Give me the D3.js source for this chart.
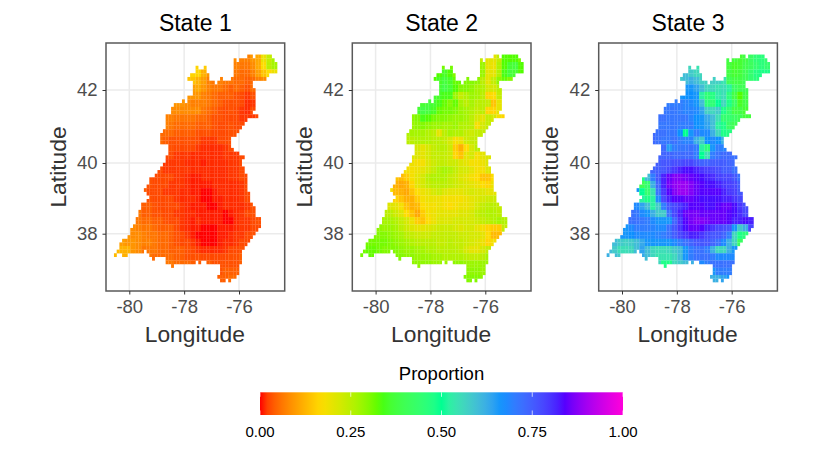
<!DOCTYPE html>
<html>
<head>
<meta charset="utf-8">
<script src="https://cdnjs.cloudflare.com/ajax/libs/d3/7.8.5/d3.min.js"></script>
<style>
  body { margin: 0; background: #fff; }
  text { font-family: "Liberation Sans", Arial, sans-serif; }
</style>
</head>
<body>
<div id="chart"></div>
<script>
const stateNames = ["State 1", "State 2", "State 3"]
const lonTicks = [-80, -78, -76]
const latTicks = [38, 40, 42]
const legendTicks = [0, 0.25, 0.5, 0.75, 1]
const rainbowColors = ["#FF0000", "#FFDB00", "#49FF00", "#00FF92", "#0092FF", "#4900FF", "#FF00DB"]

// grid origin and spacing, degrees
const lonStart = -80.51, lonStep = 0.0992
const latStart = 42.92, latStep = 0.1023

// occupied grid columns for each row, north to south
const landRuns = [
  [[49,50],[52,57]], [[44,44],[46,58]], [[44,59]], [[30,30],[33,33],[44,59]],
  [[30,33],[44,59]], [[28,34],[44,56]], [[27,34],[39,39],[43,55]], [[29,36],[38,50]],
  [[29,50]], [[29,51]], [[29,51]], [[27,51]],
  [[25,25],[27,51]], [[22,51]], [[21,51]], [[21,50]],
  [[19,52]], [[19,48]], [[19,47]], [[19,46]],
  [[18,45]], [[17,44]], [[17,42]], [[17,42]],
  [[20,42]], [[20,43]], [[20,45]], [[19,47]],
  [[19,46]], [[18,46]], [[17,47]], [[16,47]],
  [[15,48]], [[13,48]], [[13,48]], [[12,48]],
  [[11,48]], [[12,49]], [[13,49]], [[12,49]],
  [[10,50]], [[10,51]], [[9,51]], [[9,51]],
  [[8,53]], [[8,53]], [[7,53]], [[6,52]],
  [[6,51]], [[5,50]], [[3,49]], [[2,48]],
  [[2,47]], [[1,10],[12,46]], [[0,0],[3,4],[13,46]], [[14,14],[19,46]],
  [[19,29],[31,31],[34,46]], [[21,21],[39,45]], [[39,45]], [[39,45]],
  [[38,44]], [[39,40],[42,42]]
]

// proportions in percent, one list per two grid rows, two grid columns per value
const state1 = [
  [8,7,7,9,11,19,24,27],
  [16,15,0,0,0,0,0,7,6,6,8,11,17,25,27],
  [16,16,12,9,0,0,0,0,6,5,5,7,10,14,17,19],
  [14,14,12,10,7,6,7,6,6,5,5,4,5,7,8],
  [10,11,9,7,6,6,5,4,5,4,3,5],
  [9,9,9,7,6,5,4,4,4,3,2.5,1.5,3],
  [9,9,8,7,7,7,6,5,4,3,3,3,2.5,1,1.5],
  [8,8,8,8,8,8,6,5,4,3,2.5,3,2.5,1.5,1,2.5],
  [7,7,6,6,6,6,5,5,4,3,3,2.5,2.5,2.5,1.5,1.5,1.5,2.5],
  [7,6,5,5,5,5,4,4,4,3,2.5,2.5,3,2.5,2.5],
  [5,5,5,4,4,4,4,3,3,3,2.5,2.5,2.5,3,3],
  [5,4,3,3,3,3,3,2.5,1.5,1.5,1.5,2.5,2.5,3],
  [3,2.5,2.5,2.5,2.5,1.5,1,1,1,1,1.5,2.5],
  [2.5,2.5,1.5,1.5,1.5,1,1,1,1,1,1,1.5,1.5,1.5,2.5],
  [1.5,1.5,1.5,1.5,1,1,1,0.5,1,1,1,1,1.5,1.5,2.5],
  [2.5,1.5,1.5,1.5,1.5,1.5,1,1,1,1,1,1,1,1.5,1.5,2.5],
  [3,2.5,2.5,2.5,2.5,1.5,1.5,1,0.5,0.5,1,1,1,1,1,1.5,1.5,2.5,2.5],
  [3,2.5,2.5,2.5,1.5,1.5,1.5,1,0.5,0.5,0.5,0.5,1,1,1,1,1,1.5,2.5],
  [4,2.5,2.5,2.5,1.5,1.5,1.5,1,1,0.5,0.5,0,0,0.5,1,1,1,1,1.5,2.5],
  [3,2.5,2.5,2.5,2.5,1.5,1,1,1,0.5,0,0,0.5,0.5,1,1,1,1.5,2.5],
  [4,4,3,2.5,2.5,2.5,2.5,1.5,1,0.5,0.5,0.5,0,0,0.5,1,1,1,1,1.5,3],
  [6,4,4,3,3,2.5,2.5,1.5,1.5,1,1,0.5,0.5,0.5,0.5,0.5,0,0.5,1,1.5,2.5,3],
  [6,5,5,4,4,3,2.5,2.5,1.5,1,0.5,1,0.5,0.5,0.5,0.5,0,0,1,1.5,1.5,2.5,3],
  [8,7,6,6,5,4,4,4,2.5,1.5,1,0.5,0.5,0,0,0,0.5,0.5,0.5,1,1.5,1.5,2.5,2.5],
  [9,8,8,7,6,6,5,5,4,3,2.5,1.5,0.5,0,0,0,0,0.5,0.5,1,1.5,1.5,2.5,3],
  [10,9,9,8,7,7,6,5,5,4,3,2.5,2.5,1.5,0.5,0,0,0,0.5,1,1,1.5,2.5,2.5],
  [13,12,12,9,8,6,6,6,5,5,4,4,4,3,2.5,1.5,1,1,1,1,1.5,2.5,2.5,3],
  [13,12,12,9,8,7,6,5,5,5,5,4,4,3,3,3,2.5,2.5,2.5,2.5,2.5,3,3,4],
  [6,6,5,5,5,4,4,4,4,3,3,3,3,3,4],
  [3,4,4,4],
  [4,4,5,5]
]
const state2 = [
  [24,20,20,24,33,33,33,31],
  [31,31,0,0,0,0,0,28,20,19,26,33,36,37,33],
  [33,35,33,30,0,0,0,0,28,20,20,26,34,37,36,33],
  [33,35,37,35,32,32,30,30,29,25,20,24,29,32,30],
  [36,38,36,33,30,30,29,27,26,22,22,25],
  [36,35,34,34,28,24,26,28,27,25,16,17,24],
  [36,37,36,34,32,30,32,27,25,27,25,25,24,14,20],
  [36,38,37,35,32,31,31,30,28,27,26,24,25,16,16,20],
  [29,30,34,33,31,30,30,29,28,28,27,25,22,20,24,22,18,16],
  [28,29,30,29,28,28,27,27,28,26,26,25,18,22,24],
  [26,27,27,27,26,25,20,25,27,26,26,24,23,24,24],
  [25,25,26,26,26,25,25,24,22,18,19,23,24,24],
  [22,20,22,24,25,25,23,15,12,17,22,25],
  [21,21,20,22,24,24,24,23,16,14,20,22,18,20,21],
  [19,18,18,21,23,24,24,23,23,21,20,18,18,19,21],
  [18,18,19,20,22,24,26,27,26,24,22,22,20,18,18,21],
  [14,13,15,18,20,22,25,26,26,26,24,23,21,20,18,17,14,14,17],
  [12,11,12,16,20,22,24,25,25,25,24,23,22,21,20,19,17,16,19],
  [18,13,12,11,14,17,19,20,22,23,21,20,20,20,21,22,21,21,20,20],
  [16,14,12,12,15,18,19,19,19,18,18,18,18,19,20,21,22,23,23],
  [21,20,18,14,12,13,17,18,18,19,18,17,18,19,19,20,22,24,25,25,24],
  [25,25,23,21,17,14,11,15,18,19,20,20,20,20,21,21,22,24,25,26,26,25],
  [27,27,26,24,22,19,15,14,17,19,21,21,21,22,22,22,22,23,24,25,26,27,26],
  [29,28,28,27,25,23,21,20,20,21,22,23,23,23,22,21,22,22,20,18,16,15,15,24],
  [30,30,30,29,28,27,25,24,23,23,23,24,24,24,24,24,23,23,22,22,20,17,13,13],
  [31,31,31,31,30,29,28,27,26,25,25,25,25,24,24,25,24,24,23,22,21,19,16,18],
  [31,32,32,31,30,30,30,29,28,28,27,27,26,26,25,25,25,25,24,22,20,20,22,24],
  [31,32,32,31,30,30,30,30,29,29,28,28,28,27,27,26,26,26,26,25,24,24,25,27],
  [29,29,29,29,28,28,28,28,29,29,28,28,28,28,28],
  [29,29,29,28],
  [30,30,30,29]
]
const state3 = [
  [38,37,36,38,42,45,46,44],
  [56,54,0,0,0,0,0,37,35,36,39,41,44,46,44],
  [60,58,56,56,0,0,0,0,38,36,37,40,44,47,48,48],
  [58,60,62,60,57,57,57,57,54,40,38,38,40,44,46],
  [66,66,64,60,56,56,54,55,52,42,40,40],
  [66,67,67,66,52,45,47,53,55,46,38,33,38],
  [70,70,70,69,68,66,60,46,45,50,56,48,42,35,38],
  [71,71,71,70,69,69,68,64,57,56,58,48,44,38,38,36],
  [72,72,71,71,71,71,69,67,66,63,60,55,44,44,42,40,37,37],
  [71,71,71,71,70,70,70,67,66,64,60,52,48,42,40],
  [73,72,72,71,71,67,50,66,70,68,68,62,56,48,47],
  [73,72,71,71,72,70,69,69,62,58,67,68,67,62],
  [73,65,70,71,71,72,70,52,46,66,70,69],
  [74,74,74,73,73,73,73,70,50,55,70,72,73,73,72],
  [75,76,76,77,77,78,78,76,74,74,75,75,75,74,73],
  [74,75,76,78,80,82,83,83,82,80,79,78,77,75,75,72],
  [48,60,70,76,82,85,87,87,86,85,84,83,82,81,79,78,78,76,72],
  [40,44,62,74,82,86,88,89,89,87,85,84,83,83,82,80,79,78,75],
  [66,50,44,54,72,80,84,87,89,89,87,85,84,84,84,84,82,80,79,76],
  [52,48,52,68,78,82,84,84,85,85,84,83,83,83,83,82,82,80,78],
  [68,64,60,52,58,70,76,78,80,82,84,84,84,83,83,84,85,85,83,80,77],
  [72,71,68,66,62,58,58,72,78,82,85,86,86,85,85,85,85,85,84,83,81,78],
  [72,72,71,70,68,66,66,66,74,80,84,86,87,87,86,85,85,85,84,82,82,83,82],
  [66,68,70,70,70,69,68,68,72,76,80,83,85,85,84,82,80,78,77,76,66,58,62,78],
  [66,66,67,68,68,68,68,69,70,72,75,78,80,82,82,80,78,76,76,74,70,56,48,46],
  [60,58,57,58,60,63,66,66,66,66,66,68,70,72,74,76,76,76,74,72,68,62,56,42],
  [60,58,55,55,56,60,64,60,56,55,55,56,58,60,66,70,72,72,70,62,56,56,62,66],
  [62,60,58,56,58,60,63,60,56,54,54,54,56,60,66,70,72,72,72,70,68,68,68,68],
  [56,48,48,56,58,60,62,62,68,70,72,72,72,72,72],
  [66,70,70,70],
  [62,62,64,66]
]
const stateValues = [state1, state2, state3]

const canvasWidth = 830, canvasHeight = 461
const panelLefts = [106, 352.3, 598.7]
const panelWidth = 178.7, panelTop = 43, panelBottom = 291

const svg = d3.select("#chart").append("svg")
  .attr("width", canvasWidth)
  .attr("height", canvasHeight)
  .style("display", "block")

const color = d3.scaleLinear()
  .domain(rainbowColors.map((c, i) => i / (rainbowColors.length - 1)))
  .range(rainbowColors)
  .interpolate(d3.interpolateLab)

// first value column of each two-row block
const blockFirst = d3.range(Math.ceil(landRuns.length / 2)).map(b =>
  d3.min(landRuns.slice(b * 2, b * 2 + 2), runs => Math.floor(runs[0][0] / 2)))

// y scale is piecewise because the map is in mercator
const y = d3.scaleLinear().domain([36, 38, 40, 42, 44]).range([304.4, 233.7, 163, 90, 17])
const x = d3.scaleLinear().domain([-80, -76]).range([23.3, 133])

stateNames.forEach((name, p) => {
  const g = svg.append("g").attr("transform", "translate(" + panelLefts[p] + ",0)")

  g.selectAll(".gx").data(lonTicks).enter().append("line")
    .attr("x1", d => x(d)).attr("x2", d => x(d))
    .attr("y1", panelTop).attr("y2", panelBottom)
    .attr("stroke", "#ebebeb").attr("stroke-width", 1.5)
  g.selectAll(".gy").data(latTicks).enter().append("line")
    .attr("x1", 0).attr("x2", panelWidth)
    .attr("y1", d => y(d)).attr("y2", d => y(d))
    .attr("stroke", "#ebebeb").attr("stroke-width", 1.5)

  // one rect per grid cell
  const cells = []
  landRuns.forEach((runs, r) => {
    const block = stateValues[p][Math.floor(r / 2)]
    const first = blockFirst[Math.floor(r / 2)]
    runs.forEach(run => {
      d3.range(run[0], run[1] + 1).forEach(c => {
        const k = Math.floor(c / 2) - first
        cells.push({ lon: lonStart + c * lonStep, lat: latStart - r * latStep, value: block[Math.min(k, block.length - 1)] / 100 })
      })
    })
  })
  g.selectAll(".cell").data(cells).enter().append("rect")
    .attr("x", d => x(d.lon - lonStep / 2))
    .attr("y", d => y(d.lat + latStep / 2))
    .attr("width", d => x(d.lon + lonStep / 2) - x(d.lon - lonStep / 2) + 0.15)
    .attr("height", d => y(d.lat - latStep / 2) - y(d.lat + latStep / 2) + 0.15)
    .attr("fill", d => color(d.value))

  g.append("rect")
    .attr("x", 0).attr("y", panelTop)
    .attr("width", panelWidth).attr("height", panelBottom - panelTop)
    .attr("fill", "none").attr("stroke", "#595959").attr("stroke-width", 1.5)

  const xAxis = g.append("g")
    .attr("transform", "translate(0," + panelBottom + ")")
    .call(d3.axisBottom(x).tickValues(lonTicks).tickSize(3.5).tickPadding(5).tickFormat(d => d))
  const yAxis = g.append("g")
    .call(d3.axisLeft(y).tickValues(latTicks).tickSize(3.5).tickPadding(5))
  xAxis.select(".domain").remove()
  yAxis.select(".domain").remove()
  xAxis.selectAll("line").attr("stroke", "#333")
  yAxis.selectAll("line").attr("stroke", "#333")
  g.selectAll(".tick text").attr("font-size", 18.5).attr("fill", "#4d4d4d")
    .style("font-family", "'Liberation Sans', Arial, sans-serif")

  g.append("text").attr("x", panelWidth / 2).attr("y", 31)
    .attr("text-anchor", "middle").attr("font-size", 23).attr("fill", "#000").text(name)
  g.append("text").attr("x", panelWidth / 2 - 0.5).attr("y", 342)
    .attr("text-anchor", "middle").attr("font-size", 22.8).attr("fill", "#333").text("Longitude")
  g.append("text")
    .attr("transform", "translate(-40.5,167) rotate(-90)")
    .attr("text-anchor", "middle").attr("font-size", 22.8).attr("fill", "#333").text("Latitude")
})

// colour bar
const legendX = d3.scaleLinear().domain([0, 1]).range([260, 623])
const legendTop = 392.3, legendBottom = 415
const gradient = svg.append("defs").append("linearGradient").attr("id", "bar")
d3.range(0, 1.001, 0.02).forEach(t => {
  gradient.append("stop").attr("offset", t).attr("stop-color", color(t))
})
svg.append("rect")
  .attr("x", legendX(0)).attr("y", legendTop)
  .attr("width", legendX(1) - legendX(0)).attr("height", legendBottom - legendTop)
  .attr("fill", "url(#bar)")
legendTicks.forEach(t => {
  [[legendTop, legendTop + 4.5], [legendBottom - 4.5, legendBottom]].forEach(seg => {
    svg.append("line")
      .attr("x1", legendX(t)).attr("x2", legendX(t))
      .attr("y1", seg[0]).attr("y2", seg[1])
      .attr("stroke", "#fff").attr("stroke-width", 0.7)
  })
})
svg.selectAll(".legend-label").data(legendTicks).enter().append("text")
  .attr("x", d => legendX(d)).attr("y", 436.5)
  .attr("text-anchor", "middle").attr("font-size", 15).attr("fill", "#000")
  .text(d => d3.format(".2f")(d))
svg.append("text").attr("x", 441.5).attr("y", 380)
  .attr("text-anchor", "middle").attr("font-size", 18.5).attr("fill", "#000").text("Proportion")
</script>
</body>
</html>
